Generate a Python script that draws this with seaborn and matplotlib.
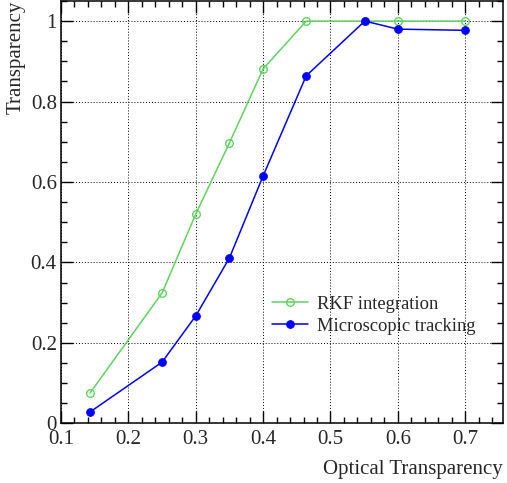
import matplotlib
matplotlib.use('Agg')
import matplotlib.pyplot as plt
import numpy as np
import pandas as pd
import seaborn as sns
from matplotlib.ticker import MultipleLocator

optical = [0.143, 0.25, 0.30, 0.35, 0.40, 0.464, 0.551, 0.60, 0.70]
rkf = [0.075, 0.324, 0.52, 0.697, 0.881, 1.0, 1.0, 1.0, 1.0]
micro = [0.028, 0.152, 0.267, 0.411, 0.615, 0.864, 1.0, 0.98, 0.977]

df = pd.DataFrame({'optical': optical, 'rkf': rkf, 'micro': micro})

sns.set_style('ticks')
plt.rcParams['font.family'] = ['Liberation Serif', 'DejaVu Serif']

fig = plt.figure(figsize=(5.07, 4.83), dpi=100)
ax = fig.add_axes([0.1203, 0.1236, 0.8717, 0.8744])

sns.lineplot(data=df, x='optical', y='rkf', ax=ax, color='#5fd35f', lw=1.1,
             marker='o', markersize=5.5, markerfacecolor='none',
             markeredgecolor='#5fd35f', markeredgewidth=1.0, label='RKF integration')
sns.lineplot(data=df, x='optical', y='micro', ax=ax, color='#0000ff', lw=1.1,
             marker='o', markersize=5.5, markeredgecolor='#0000ff',
             label='Microscopic tracking')

ax.set_xlim(0.1, 0.756)
ax.set_ylim(0, 1.05)
ax.xaxis.set_minor_locator(MultipleLocator(0.02))
ax.yaxis.set_minor_locator(MultipleLocator(0.05))
ax.set_xticks([0.1, 0.2, 0.3, 0.4, 0.5, 0.6, 0.7])
ax.set_xticklabels(['0.1', '0.2', '0.3', '0.4', '0.5', '0.6', '0.7'])
ax.set_yticks([0, 0.2, 0.4, 0.6, 0.8, 1.0])
ax.set_yticklabels(['0', '0.2', '0.4', '0.6', '0.8', '1'])

ax.tick_params(which='both', direction='in', top=True, right=True, labelsize=15,
               width=1.0, color='black')
ax.tick_params(which='major', length=8.5)
ax.tick_params(which='minor', length=4.3)
ax.tick_params(axis='x', which='major', pad=5)
ax.tick_params(axis='y', which='major', pad=3)
for s in ax.spines.values():
    s.set_linewidth(1.1)
    s.set_color('black')

ax.grid(True, which='major', color='black', linestyle=(0, (1, 2)), linewidth=0.7)

ax.set_xlabel('Optical Transparency', fontsize=15, ha='right', x=1.0, labelpad=8)
ax.set_ylabel('Transparency', fontsize=15, ha='right', y=1.0, labelpad=4)

ax.legend(loc='lower right', bbox_to_anchor=(0.975, 0.17), frameon=False, fontsize=13.3,
          handlelength=2.0, handletextpad=0.45, labelspacing=0.28)

fig.savefig('out.png', dpi=100)
